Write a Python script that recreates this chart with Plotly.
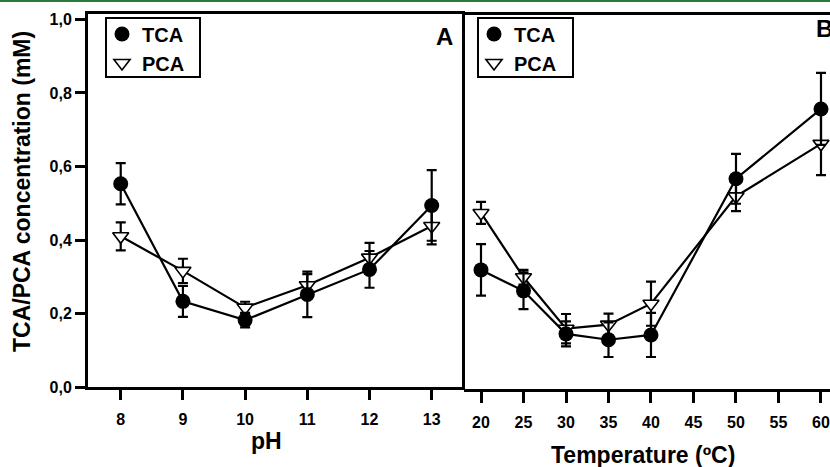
import plotly.graph_objects as go

# ---- data ----
ph = [8, 9, 10, 11, 12, 13]
tca_ph = [0.553, 0.233, 0.182, 0.252, 0.320, 0.494]
tca_ph_err = [0.056, 0.042, 0.020, 0.062, 0.050, 0.096]
pca_ph = [0.410, 0.316, 0.216, 0.277, 0.352, 0.438]
pca_ph_err = [0.038, 0.033, 0.016, 0.030, 0.040, 0.050]

temp = [20, 25, 30, 35, 40, 50, 60]
tca_t = [0.320, 0.263, 0.146, 0.130, 0.143, 0.568, 0.758]
tca_t_err = [0.070, 0.050, 0.034, 0.047, 0.060, 0.068, 0.098]
pca_t = [0.475, 0.300, 0.160, 0.171, 0.228, 0.520, 0.663]
pca_t_err = [0.030, 0.020, 0.040, 0.030, 0.060, 0.040, 0.085]

y_ticks = [0.0, 0.2, 0.4, 0.6, 0.8, 1.0]
y_ticklabels = ["0,0", "0,2", "0,4", "0,6", "0,8", "1,0"]
ph_ticks = [8, 9, 10, 11, 12, 13]
temp_ticks = [20, 25, 30, 35, 40, 45, 50, 55, 60]

W, H = 830, 467
FONT = "Liberation Sans, Arial, sans-serif"


def px(x):
    return x / W


def py(y):
    return 1 - y / H


fig = go.Figure()

line = dict(color="black", width=2.2)
err_style = dict(type="data", visible=True, color="black", thickness=2.2, width=5)

pca_marker = dict(symbol="triangle-down", size=14, color="white",
                  line=dict(color="black", width=1.6))
tca_marker = dict(symbol="circle", size=15, color="black",
                  line=dict(color="black", width=0))

# panel A
fig.add_trace(go.Scatter(x=ph, y=pca_ph, mode="lines+markers", line=line,
                         marker=pca_marker, showlegend=False,
                         error_y=dict(array=pca_ph_err, **err_style),
                         xaxis="x", yaxis="y"))
fig.add_trace(go.Scatter(x=ph, y=tca_ph, mode="lines+markers", line=line,
                         marker=tca_marker, showlegend=False,
                         error_y=dict(array=tca_ph_err, **err_style),
                         xaxis="x", yaxis="y"))
# panel B
fig.add_trace(go.Scatter(x=temp, y=pca_t, mode="lines+markers", line=line,
                         marker=pca_marker, showlegend=False,
                         error_y=dict(array=pca_t_err, **err_style),
                         xaxis="x2", yaxis="y2"))
fig.add_trace(go.Scatter(x=temp, y=tca_t, mode="lines+markers", line=line,
                         marker=tca_marker, showlegend=False,
                         error_y=dict(array=tca_t_err, **err_style),
                         xaxis="x2", yaxis="y2"))

# legend entries
for lg, ax, ay in (("legend", "x", "y"), ("legend2", "x2", "y2")):
    fig.add_trace(go.Scatter(x=[None], y=[None], mode="markers", name="TCA",
                             marker=tca_marker, legend=lg, legendgroup=lg + "a",
                             xaxis=ax, yaxis=ay))
    fig.add_trace(go.Scatter(x=[None], y=[None], mode="markers", name="PCA",
                             marker=pca_marker, legend=lg, legendgroup=lg + "b",
                             xaxis=ax, yaxis=ay))

legend_common = dict(
    font=dict(family=FONT, size=20, color="black", weight="bold"),
    bgcolor="rgba(0,0,0,0)", borderwidth=0,
    xanchor="left", yanchor="top", tracegroupgap=3, indentation=-6,
    itemsizing="trace", traceorder="normal",
)

tickfont = dict(family=FONT, size=16, color="black", weight="bold")

fig.update_layout(
    width=W, height=H,
    margin=dict(l=0, r=0, t=0, b=0, autoexpand=False),
    paper_bgcolor="white", plot_bgcolor="white",
    showlegend=True,
    legend=dict(x=px(108), y=py(14.5), **legend_common),
    legend2=dict(x=px(480), y=py(14.5), **legend_common),
    xaxis=dict(domain=[px(88), px(462)], range=[7.474, 13.487],
               tickvals=ph_ticks, ticks="outside", ticklen=10, tickwidth=3,
               tickcolor="black", showline=True, linecolor="black", linewidth=3,
               mirror=True, showgrid=False, zeroline=False, tickfont=tickfont,
               ticklabelstandoff=6, anchor="y", automargin=False),
    yaxis=dict(domain=[py(387), py(13.5)], range=[0, 1.0163],
               tickvals=y_ticks, ticktext=y_ticklabels, ticks="outside",
               ticklen=10, tickwidth=3, tickcolor="black", showline=True,
               linecolor="black", linewidth=3, mirror=True, showgrid=False,
               zeroline=False, tickfont=tickfont, ticklabelstandoff=0,
               anchor="x", automargin=False),
    xaxis2=dict(domain=[px(464), 1.0], range=[18.0, 61.06],
                tickvals=temp_ticks, ticks="outside", ticklen=11, tickwidth=3,
                tickcolor="black", showline=True, linecolor="black",
                linewidth=3, mirror=True, showgrid=False, zeroline=False,
                tickfont=tickfont, ticklabelstandoff=6, anchor="y2",
                automargin=False),
    yaxis2=dict(domain=[py(389), py(14.5)], range=[-0.0041, 1.015],
                showticklabels=False, ticks="", showline=False,
                showgrid=False, zeroline=False, anchor="x2", automargin=False),
)

# legend frames
for x0, x1 in ((106, 200), (478, 573)):
    fig.add_shape(type="rect", xref="paper", yref="paper",
                  x0=px(x0), x1=px(x1), y0=py(77), y1=py(18),
                  line=dict(color="black", width=2), fillcolor="white",
                  layer="below")

title_font = dict(family=FONT, size=23, color="black", weight="bold")
fig.add_annotation(text="TCA/PCA concentration (mM)", textangle=-90,
                   xref="paper", yref="paper", x=px(22), y=py(192),
                   xanchor="center", yanchor="middle", showarrow=False,
                   font=title_font)
fig.add_annotation(text="pH", xref="paper", yref="paper", x=px(266), y=py(441),
                   xanchor="center", yanchor="middle", showarrow=False,
                   font=title_font)
fig.add_annotation(text="Temperature (ºC)", xref="paper", yref="paper",
                   x=px(643), y=py(455), xanchor="center", yanchor="middle",
                   showarrow=False, font=title_font)
fig.add_annotation(text="A", xref="paper", yref="paper", x=px(444), y=py(36),
                   xanchor="center", yanchor="middle", showarrow=False,
                   font=dict(family=FONT, size=24, color="black", weight="bold"))
fig.add_annotation(text="B", xref="paper", yref="paper", x=px(814), y=py(28.5),
                   xanchor="left", yanchor="middle", showarrow=False,
                   font=dict(family=FONT, size=24, color="black", weight="bold"))

# green rule at the very top
fig.add_shape(type="rect", xref="paper", yref="paper", x0=0, x1=1,
              y0=py(2), y1=1, fillcolor="#2e7a3c", line=dict(width=0),
              layer="above")

fig.write_html(
    "out.html",
    config={"displayModeBar": False},
    post_script="document.body.style.margin='0';document.body.style.overflow='hidden';",
)
